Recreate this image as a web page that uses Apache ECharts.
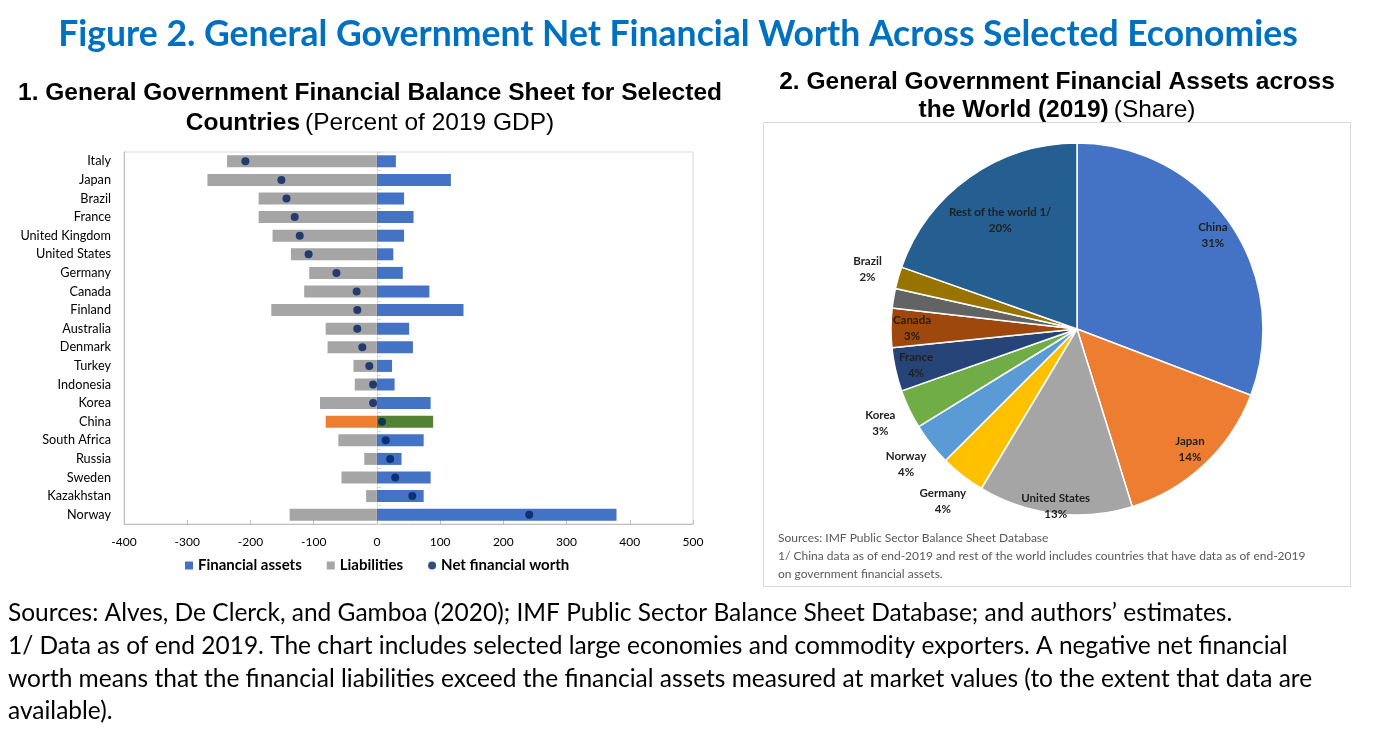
<!DOCTYPE html>
<html>
<head>
<meta charset="utf-8">
<script src="https://cdn.jsdelivr.net/npm/echarts@6/dist/echarts.min.js"></script>
<style>
html,body{margin:0;padding:0;background:#fff;}
#main{width:1384px;height:736px;}
</style>
</head>
<body>
<div id="main"></div>
<script>
// ---------- Panel 1 data (percent of 2019 GDP) ----------
const countries = ['Italy','Japan','Brazil','France','United Kingdom','United States','Germany','Canada','Finland','Australia','Denmark','Turkey','Indonesia','Korea','China','South Africa','Russia','Sweden','Kazakhstan','Norway'];
const financialAssets = [30,117,43,58,43,26,41,83,137,51,57,24,28,85,89,74,39,85,74,379];
const liabilities = [-237,-268,-187,-187,-165,-136,-107,-115,-167,-81,-78,-37,-35,-90,-81,-61,-20,-56,-17,-138];
const netWorth = [-208,-151,-143,-130,-122,-108,-64,-32,-31,-31,-23,-12,-6,-6,8,14,21,29,56,241];
const xTicks = {min:-400, max:500, interval:100};

// ---------- Panel 2 data (share, 2019) ----------
const pieNames = ['China','Japan','United States','Germany','Norway','Korea','France','Canada','Australia','Brazil','Rest of the world 1/'];
const pieShares = [30.8,14.4,13.4,3.9,3.7,3.4,3.8,3.4,1.7,1.9,19.6];
const pieColors = ['#4472C4','#ED7D31','#A5A5A5','#FFC000','#5B9BD5','#70AD47','#264478','#9E480E','#636363','#997300','#255E91'];

const CAL = 'Lato, "Open Sans", sans-serif';
const ARI = '"Liberation Sans", Arial, sans-serif';

const chart = echarts.init(document.getElementById('main'), null, {renderer:'canvas'});

const pieCenter = [1077, 329];
const pieR = 186;

function labelRing(show, r0, r1) {
  return {
    type:'pie', silent:true, center:pieCenter, radius:[r0, r1],
    startAngle:90, clockwise:true, percentPrecision:0, z:5,
    itemStyle:{color:'rgba(0,0,0,0)', borderWidth:0},
    emphasis:{disabled:true}, labelLine:{show:false},
    label:{show:true, position:'inside', formatter:'{b}\n{d}%', color:'#1f1f1f',
      fontFamily:CAL, fontWeight:'bold', fontSize:11.5, lineHeight:16},
    data: pieNames.map((n,i)=>({name:n, value:pieShares[i], label:{show: show.indexOf(n) >= 0}}))
  };
}

const option = {
  animation:false,
  backgroundColor:'#fff',
  title:[
    {text:'Figure 2. General Government Net Financial Worth Across Selected Economies',
     left:678, top:17, textAlign:'center', padding:0,
     textStyle:{color:'#0070C0', fontFamily:CAL, fontWeight:'bold', fontSize:35.5}},
    {text:'{b|1. General Government Financial Balance Sheet for Selected}\n{b|Countries} {n|(Percent of 2019 GDP)}',
     left:370, top:78, textAlign:'center', padding:0,
     textStyle:{rich:{
       b:{fontFamily:ARI, fontWeight:'bold', fontSize:24.5, color:'#000', lineHeight:30},
       n:{fontFamily:ARI, fontWeight:'normal', fontSize:24.5, color:'#000', lineHeight:30}}}},
    {text:'{b|2. General Government Financial Assets across}\n{b|the World (2019)} {n|(Share)}',
     left:1057, top:68, textAlign:'center', padding:0,
     textStyle:{rich:{
       b:{fontFamily:ARI, fontWeight:'bold', fontSize:24.5, color:'#000', lineHeight:28},
       n:{fontFamily:ARI, fontWeight:'normal', fontSize:24.5, color:'#000', lineHeight:28}}}},
    {text:'Sources: IMF Public Sector Balance Sheet Database\n1/ China data as of end-2019 and rest of the world includes countries that have data as of end-2019\non government financial assets.',
     left:778, top:529, padding:0,
     textStyle:{fontFamily:CAL, fontSize:12, color:'#595959', fontWeight:'normal', lineHeight:18}},
    {text:'Sources: Alves, De Clerck, and Gamboa (2020); IMF Public Sector Balance Sheet Database; and authors\u2019 estimates.\n1/ Data as of end 2019. The chart includes selected large economies and commodity exporters. A negative net financial\nworth means that the financial liabilities exceed the financial assets measured at market values (to the extent that data are\navailable).',
     left:8, top:597, padding:0,
     textStyle:{fontFamily:CAL, fontSize:24.5, color:'#000', fontWeight:'normal', lineHeight:32.7}}
  ],
  graphic:[
    {type:'rect', shape:{x:763.5, y:122.5, width:587, height:464}, style:{fill:'none', stroke:'#D9D9D9', lineWidth:1}, silent:true}
  ],
  legend:{
    left:180, top:553, itemWidth:8, itemHeight:8, itemGap:25,
    textStyle:{fontFamily:CAL, fontWeight:'bold', fontSize:15, color:'#000'},
    data:[
      {name:'Financial assets', icon:'rect'},
      {name:'Liabilities', icon:'rect'},
      {name:'Net financial worth', icon:'circle'}
    ]
  },
  grid:{left:124, top:152, width:569, height:372, show:true, borderColor:'#D9D9D9', borderWidth:1, containLabel:false},
  xAxis:{type:'value', min:xTicks.min, max:xTicks.max, interval:xTicks.interval,
    axisLine:{show:true, lineStyle:{color:'#BFBFBF'}},
    axisTick:{show:true, inside:true, length:4, lineStyle:{color:'#BFBFBF'}},
    splitLine:{show:false},
    axisLabel:{fontFamily:CAL, fontSize:12, color:'#000', margin:12}},
  yAxis:[
    {type:'category', data:countries, inverse:true, position:'left',
     axisLine:{show:true, onZero:false, lineStyle:{color:'#BFBFBF'}}, axisTick:{show:false},
     axisLabel:{fontFamily:CAL, fontSize:12.7, color:'#000', margin:13}},
    {type:'category', data:countries, inverse:true, position:'left',
     axisLine:{show:true, onZero:true, lineStyle:{color:'#D9D9D9'}},
     axisTick:{show:true, inside:true, length:4, lineStyle:{color:'#D9D9D9'}},
     axisLabel:{show:false}}
  ],
  series:[
    {name:'Financial assets', type:'bar', stack:'bs', barWidth:12, yAxisIndex:0,
     itemStyle:{color:'#4472C4'},
     data: financialAssets.map((v,i)=> countries[i]==='China' ? {value:v, itemStyle:{color:'#548235'}} : v)},
    {name:'Liabilities', type:'bar', stack:'bs', barWidth:12, yAxisIndex:0,
     itemStyle:{color:'#A5A5A5'},
     data: liabilities.map((v,i)=> countries[i]==='China' ? {value:v, itemStyle:{color:'#ED7D31'}} : v)},
    {name:'Net financial worth', type:'scatter', symbol:'circle', symbolSize:8, yAxisIndex:0, z:10,
     itemStyle:{color:'#002060'},
     data: netWorth.map((v,i)=>[v, countries[i]])},
    {type:'pie', silent:true, center:pieCenter, radius:pieR, startAngle:90, clockwise:true,
     itemStyle:{borderColor:'#fff', borderWidth:1.5},
     label:{show:false}, labelLine:{show:false}, emphasis:{disabled:true},
     data: pieNames.map((n,i)=>({name:n, value:pieShares[i], itemStyle:{color:pieColors[i]}}))},
    labelRing(['China','Japan','France','Canada'], 148, 176),
    labelRing(['United States'], 160, 192),
    labelRing(['Rest of the world 1/'], 116, 144),
    labelRing(['Germany','Norway','Korea','Australia','Brazil'], 207, 223)
  ]
};
chart.setOption(option);
</script>
</body>
</html>
